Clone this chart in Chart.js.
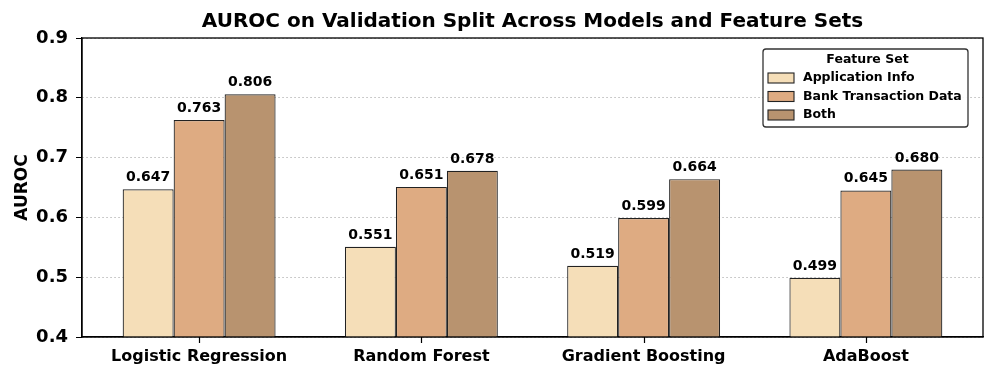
<!DOCTYPE html>
<html>
<head>
<meta charset="utf-8">
<script src="https://cdn.jsdelivr.net/npm/chart.js@4.4.1/dist/chart.umd.min.js"></script>
<style>
  html, body { margin: 0; padding: 0; background: #fff; }
  #wrap { width: 996px; height: 379px; }
</style>
</head>
<body>
<div id="wrap"><canvas id="chart" width="996" height="379"></canvas></div>
<script>
// dati
var models = ['Logistic Regression', 'Random Forest', 'Gradient Boosting', 'AdaBoost'];
var featureSets = ['Application Info', 'Bank Transaction Data', 'Both'];
var appInfo = [0.647, 0.551, 0.519, 0.499];
var bankData = [0.763, 0.651, 0.599, 0.645];
var both = [0.806, 0.678, 0.664, 0.680];
var yTicks = [0.4, 0.5, 0.6, 0.7, 0.8, 0.9];

var colori = ['#F5DEB8', '#DEAB82', '#B8936F'];
var FONT = 'DejaVu Sans';
var TITOLO = 'AUROC on Validation Split Across Models and Feature Sets';

// etichette valori sopra le barre
var valueLabels = {
  id: 'valueLabels',
  afterDatasetsDraw: function(chart) {
    var ctx = chart.ctx;
    ctx.save();
    ctx.font = 'bold 14px "' + FONT + '"';
    ctx.fillStyle = '#000';
    ctx.textAlign = 'center';
    ctx.textBaseline = 'alphabetic';
    chart.data.datasets.forEach(function(ds, i) {
      var meta = chart.getDatasetMeta(i);
      meta.data.forEach(function(bar, j) {
        ctx.fillText(ds.data[j].y.toFixed(3), bar.x, bar.y - 8);
      });
    });
    ctx.restore();
  }
};

// titolo, cornice, tacche asse x e legenda
var frameLegend = {
  id: 'frameLegend',
  afterDraw: function(chart) {
    var ctx = chart.ctx;
    var a = chart.chartArea;
    var sx = chart.scales.x;
    ctx.save();

    // titolo centrato sull'area del grafico
    ctx.fillStyle = '#000';
    ctx.font = 'bold 20px "' + FONT + '"';
    ctx.textAlign = 'center';
    ctx.textBaseline = 'alphabetic';
    ctx.fillText(TITOLO, (a.left + a.right) / 2, 27);

    ctx.strokeStyle = '#000';
    ctx.lineWidth = 1.3;
    ctx.strokeRect(a.left, a.top, a.right - a.left, a.bottom - a.top);

    // tacche sull'asse x
    ctx.lineWidth = 1.2;
    ctx.beginPath();
    for (var k = 0; k < models.length; k++) {
      var px = Math.round(sx.getPixelForValue(k)) + 0.5;
      ctx.moveTo(px, a.bottom);
      ctx.lineTo(px, a.bottom + 6);
    }
    ctx.stroke();

    // box legenda
    var x = 763, y = 49, w = 205, h = 78;
    ctx.fillStyle = 'rgba(255,255,255,0.9)';
    ctx.strokeStyle = '#333';
    ctx.lineWidth = 1.3;
    ctx.beginPath();
    ctx.roundRect(x, y, w, h, 3);
    ctx.fill();
    ctx.stroke();

    ctx.fillStyle = '#000';
    ctx.font = 'bold 12.5px "' + FONT + '"';
    ctx.textAlign = 'center';
    ctx.textBaseline = 'middle';
    ctx.fillText('Feature Set', x + w / 2 + 2, y + 11);

    ctx.textAlign = 'left';
    for (var i = 0; i < featureSets.length; i++) {
      var ry = y + 29 + i * 18.5;
      ctx.fillStyle = colori[i];
      ctx.fillRect(x + 5, ry - 5, 26, 10);
      ctx.strokeStyle = '#222';
      ctx.lineWidth = 1.1;
      ctx.strokeRect(x + 5, ry - 5, 26, 10);
      ctx.fillStyle = '#000';
      ctx.fillText(featureSets[i], x + 40, ry);
    }
    ctx.restore();
  }
};

function init() {
  var ctx = document.getElementById('chart');
  var lista = [appInfo, bankData, both];
  var datasets = [];
  for (var i = 0; i < featureSets.length; i++) {
    datasets.push({
      label: featureSets[i],
      data: lista[i].map(function(v, j) { return { x: j, y: v }; }),
      backgroundColor: colori[i],
      borderColor: '#222',
      borderWidth: 1.2,
      categoryPercentage: 0.688,
      barPercentage: 1.0
    });
  }

  new Chart(ctx, {
    type: 'bar',
    data: { datasets: datasets },
    plugins: [valueLabels, frameLegend],
    options: {
      responsive: false,
      animation: false,
      layout: { padding: { left: 0, right: 13, top: 38, bottom: 0 } },
      plugins: {
        legend: { display: false },
        tooltip: { enabled: false },
        title: { display: false }
      },
      scales: {
        x: {
          type: 'linear',
          min: -0.527,
          max: 3.527,
          offset: false,
          afterBuildTicks: function(scale) {
            scale.ticks = models.map(function(m, k) { return { value: k }; });
          },
          grid: {
            display: true,
            offset: false,
            drawOnChartArea: false,
            tickLength: 5,
            color: 'rgba(0,0,0,0)',
            tickColor: 'rgba(0,0,0,0)'
          },
          border: { color: '#000', width: 1.3 },
          ticks: {
            color: '#000',
            padding: 5,
            maxRotation: 0,
            autoSkip: false,
            font: { family: FONT, size: 16, weight: 'bold' },
            callback: function(v) { return models[v]; }
          },
          afterFit: function(scale) { scale.height = 42; }
        },
        y: {
          min: 0.4,
          max: 0.9,
          afterBuildTicks: function(scale) {
            scale.ticks = yTicks.map(function(v) { return { value: v }; });
          },
          grid: {
            color: '#bbbbbb',
            lineWidth: 1,
            tickLength: 6,
            tickColor: '#000',
            tickBorderDash: []
          },
          border: { color: '#000', width: 1.3, dash: [1.5, 2.5] },
          ticks: {
            color: '#000',
            padding: 8,
            font: { family: FONT, size: 18, weight: 'bold' },
            callback: function(v) { return Number(v).toFixed(1); }
          },
          title: {
            display: true,
            text: 'AUROC',
            color: '#000',
            font: { family: FONT, size: 17, weight: 'bold' },
            padding: { top: 12, bottom: 4 }
          },
          afterFit: function(scale) { scale.width = 82; }
        }
      }
    }
  });
}

init();
</script>
</body>
</html>
